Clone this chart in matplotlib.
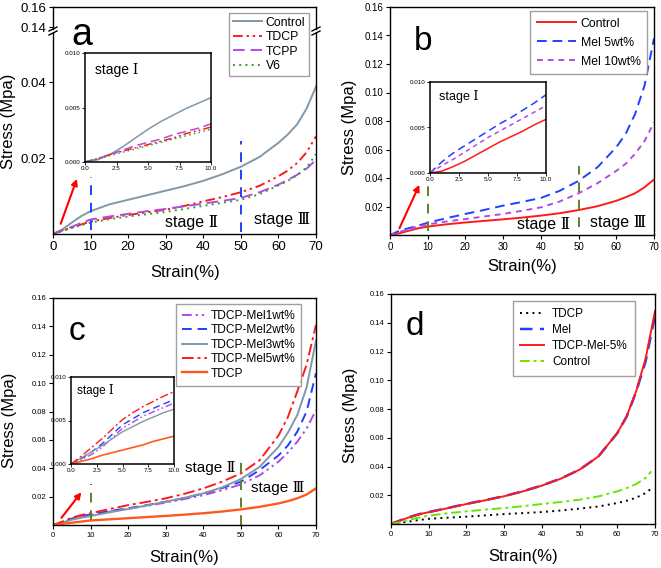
import matplotlib
matplotlib.use("Agg")
import matplotlib.pyplot as plt
from matplotlib.lines import Line2D

plt.rcParams['font.family'] = ['Liberation Sans', 'DejaVu Sans']

W, H = 661, 568
fig = plt.figure(figsize=(W / 100, H / 100), dpi=100)


def rect(l, t, r, b):
    return [l / W, 1 - b / H, (r - l) / W, (b - t) / H]


# ---------------- data ----------------
strain = [0, 2.5, 5, 7.5, 10, 15, 20, 25, 30, 35, 40, 45, 50, 55, 60, 62.5, 65, 67.5, 70]
strain_d_short = [0, 2.5, 5, 7.5, 10, 15, 20, 25, 30, 35, 40, 45, 50, 55, 60, 62.5, 65, 67.5, 69]
strain_inset = [0, 1, 2, 3, 4, 5, 6, 7, 8, 9, 10]

# panel a
a_control = [0, 0.0012, 0.003, 0.0047, 0.006, 0.0078, 0.009, 0.0102, 0.0114, 0.0126, 0.014, 0.0157, 0.0177, 0.0203, 0.024, 0.0262, 0.0289, 0.033, 0.0388]
a_tdcp = [0, 0.0009, 0.0017, 0.0025, 0.0033, 0.0042, 0.005, 0.0057, 0.0064, 0.0074, 0.0086, 0.0097, 0.011, 0.0127, 0.0152, 0.0167, 0.0187, 0.0215, 0.0257]
a_tcpp = [0, 0.001, 0.0019, 0.0029, 0.0038, 0.0046, 0.0053, 0.006, 0.0066, 0.0073, 0.008, 0.0087, 0.0095, 0.011, 0.013, 0.0142, 0.0156, 0.0172, 0.0195]
a_v6 = [0, 0.0008, 0.0016, 0.0023, 0.003, 0.0039, 0.0046, 0.0052, 0.0058, 0.0066, 0.0074, 0.0082, 0.009, 0.0105, 0.0128, 0.014, 0.0155, 0.0175, 0.021]
ai_control = [0, 0.0002, 0.0007, 0.0014, 0.0022, 0.003, 0.0037, 0.0043, 0.0049, 0.0054, 0.0059]
ai_tdcp = [0, 0.0003, 0.0007, 0.001, 0.0013, 0.0016, 0.0019, 0.0022, 0.0026, 0.0029, 0.0032]
ai_tcpp = [0, 0.0003, 0.0007, 0.0011, 0.0015, 0.0018, 0.0021, 0.0025, 0.0028, 0.0031, 0.0035]
ai_v6 = [0, 0.0003, 0.0006, 0.0009, 0.0012, 0.0015, 0.0018, 0.0021, 0.0024, 0.0027, 0.003]

# panel b
b_control = [0, 0.0012, 0.003, 0.0047, 0.0059, 0.0075, 0.0088, 0.0099, 0.011, 0.0122, 0.0136, 0.0153, 0.0175, 0.0202, 0.024, 0.0265, 0.0293, 0.0335, 0.039]
b_mel5 = [0, 0.003, 0.0048, 0.0066, 0.0086, 0.0118, 0.0148, 0.0176, 0.0206, 0.0232, 0.026, 0.031, 0.038, 0.0475, 0.0616, 0.071, 0.085, 0.105, 0.138]
b_mel10 = [0, 0.0022, 0.0039, 0.006, 0.0074, 0.0095, 0.0112, 0.013, 0.0148, 0.017, 0.0194, 0.0235, 0.0293, 0.0363, 0.045, 0.05, 0.057, 0.066, 0.079]
bi_control = [0, 0.0002, 0.0007, 0.0013, 0.002, 0.0027, 0.0034, 0.004, 0.0046, 0.0053, 0.0059]
bi_mel5 = [0, 0.0012, 0.0022, 0.003, 0.0038, 0.0046, 0.0054, 0.0061, 0.0069, 0.0077, 0.0086]
bi_mel10 = [0, 0.0008, 0.0015, 0.0023, 0.0031, 0.0039, 0.0046, 0.0053, 0.006, 0.0067, 0.0074]

# panel c
c_mel1 = [0, 0.0014, 0.0041, 0.0058, 0.007, 0.0094, 0.0115, 0.0135, 0.0158, 0.0183, 0.021, 0.0245, 0.0286, 0.035, 0.0446, 0.051, 0.0586, 0.068, 0.081]
c_mel2 = [0, 0.0018, 0.0045, 0.0062, 0.0074, 0.0098, 0.0118, 0.014, 0.0164, 0.019, 0.0222, 0.026, 0.0305, 0.0387, 0.049, 0.056, 0.0657, 0.08, 0.107]
c_mel3 = [0, 0.0017, 0.0037, 0.0051, 0.0063, 0.0089, 0.0113, 0.0138, 0.0164, 0.0192, 0.0223, 0.0265, 0.0324, 0.041, 0.055, 0.065, 0.0774, 0.097, 0.13]
c_mel5 = [0, 0.0024, 0.0051, 0.007, 0.0083, 0.0112, 0.014, 0.0163, 0.0188, 0.022, 0.0258, 0.0305, 0.0364, 0.0457, 0.063, 0.076, 0.094, 0.113, 0.141]
c_tdcp = [0, 0.0008, 0.0016, 0.0024, 0.0032, 0.004, 0.0048, 0.0056, 0.0064, 0.0073, 0.0083, 0.0095, 0.011, 0.0128, 0.0152, 0.0168, 0.0188, 0.0215, 0.0258]
ci_mel1 = [0, 0.0005, 0.0011, 0.0019, 0.003, 0.0041, 0.0048, 0.0055, 0.006, 0.0065, 0.007]
ci_mel2 = [0, 0.0006, 0.0014, 0.0023, 0.0034, 0.0045, 0.0052, 0.0059, 0.0064, 0.0069, 0.0074]
ci_mel3 = [0, 0.0007, 0.0014, 0.0021, 0.0029, 0.0037, 0.0043, 0.0049, 0.0054, 0.0059, 0.0063]
ci_mel5 = [0, 0.0009, 0.0019, 0.0029, 0.004, 0.0051, 0.0059, 0.0066, 0.0072, 0.0078, 0.0083]
ci_tdcp = [0, 0.0003, 0.0006, 0.001, 0.0013, 0.0016, 0.0019, 0.0022, 0.0026, 0.0029, 0.0032]

# panel d
d_tdcp = [0, 0.0009, 0.0018, 0.0028, 0.0036, 0.0044, 0.0051, 0.006, 0.0069, 0.0076, 0.0083, 0.0094, 0.0107, 0.0122, 0.0146, 0.0162, 0.0183, 0.0215, 0.0246]
d_mel = [0, 0.0026, 0.0049, 0.0069, 0.0083, 0.0111, 0.014, 0.0166, 0.0194, 0.0228, 0.0268, 0.0316, 0.0378, 0.047, 0.0632, 0.0748, 0.092, 0.113, 0.145]
d_tdcp_mel = [0, 0.0025, 0.0048, 0.0068, 0.0082, 0.011, 0.0139, 0.0165, 0.0193, 0.0227, 0.0267, 0.0315, 0.0378, 0.047, 0.0633, 0.075, 0.0923, 0.115, 0.148]
d_control = [0, 0.0012, 0.003, 0.0046, 0.0058, 0.0075, 0.0088, 0.01, 0.0111, 0.0124, 0.0139, 0.0153, 0.0169, 0.0192, 0.0227, 0.025, 0.0278, 0.032, 0.0366]

x_ticks = [0, 10, 20, 30, 40, 50, 60, 70]
y_ticks = [0.02, 0.04, 0.06, 0.08, 0.10, 0.12, 0.14, 0.16]
y_tick_labels = ['0.02', '0.04', '0.06', '0.08', '0.10', '0.12', '0.14', '0.16']
inset_xticks = [0, 2.5, 5, 7.5, 10]
inset_xlabels = ['0.0', '2.5', '5.0', '7.5', '10.0']
inset_yticks = [0, 0.005, 0.01]
inset_ylabels = ['0.000', '0.005', '0.010']

# ---------------- styles ----------------
GREY = '#8198a8'
RED = '#ff1a1a'
PURPLE = '#b24ae8'
BLUE = '#2040ff'
GREEN = '#2ea02e'
OLIVE = '#5f7f2f'
ORANGE = '#ff5a1e'
LIME = '#66e600'
DDOT = (0, (5, 2, 1.2, 2, 1.2, 2))
LW = 1.4
STAGE1 = 'stage \u2160'
STAGE2 = 'stage \u2161'
STAGE3 = 'stage \u2162'
STAGE_FONT = ['Liberation Sans', 'DejaVu Serif', 'DejaVu Sans']


def style_axes(ax, tick_fs):
    for s in ax.spines.values():
        s.set_linewidth(1.0)
    ax.tick_params(direction='out', length=3, width=0.8, labelsize=tick_fs, pad=2)


def style_inset(ax):
    ax.set_xlim(0, 10)
    ax.set_ylim(0, 0.01)
    ax.set_xticks(inset_xticks)
    ax.set_xticklabels(inset_xlabels)
    ax.set_yticks(inset_yticks)
    ax.set_yticklabels(inset_ylabels)
    for s in ax.spines.values():
        s.set_linewidth(1.1)
    ax.tick_params(direction='out', length=2, width=0.6, labelsize=4.5, pad=1)


def legend(ax, anchor, fs, hl, htp, bp, ls):
    h, l = ax.get_legend_handles_labels()
    lg = ax.legend(h, l, loc='upper left', bbox_to_anchor=(anchor[0] / W, 1 - anchor[1] / H),
                   bbox_transform=fig.transFigure, fontsize=fs, frameon=True, fancybox=False,
                   edgecolor='#888888', handlelength=hl, borderpad=bp, labelspacing=ls,
                   handletextpad=htp, borderaxespad=0)
    lg.get_frame().set_linewidth(1.0)
    lg.set_zorder(20)


# ================= panel a =================
ax_top = fig.add_axes(rect(53, 7, 316, 29))
ax_a = fig.add_axes(rect(53, 33, 316, 234))
ax_top.set_xlim(0, 70)
ax_top.set_ylim(0.138, 0.16)
ax_top.set_yticks([0.14, 0.16])
ax_top.set_yticklabels(['0.14', '0.16'])
ax_top.set_xticks([])
ax_top.spines['bottom'].set_visible(False)
style_axes(ax_top, 9.5)

ax_a.set_xlim(0, 70)
ax_a.set_ylim(0, 0.0529)
ax_a.plot(strain, a_control, color=GREY, lw=LW, label='Control')
ax_a.plot(strain, a_tdcp, color=RED, lw=LW, ls=DDOT, label='TDCP')
ax_a.plot(strain, a_tcpp, color=PURPLE, lw=LW, ls=(0, (6, 3)), label='TCPP')
ax_a.plot(strain, a_v6, color=GREEN, lw=LW, ls=(0, (1, 2.2)), label='V6')
a_vlines_x = [10, 50]
a_vlines_lo = [0.001, 0.0005]
a_vlines_hi = [0.015, 0.0245]
ax_a.vlines(a_vlines_x, a_vlines_lo, a_vlines_hi, colors=BLUE, linestyles=(0, (5, 4)), lw=1.4)
ax_a.annotate('', xy=(6.6, 0.0152), xytext=(1.8, 0.002),
              arrowprops=dict(arrowstyle='-|>', color='red', lw=1.5, mutation_scale=9))
ax_a.text(36.8, 0.0031, STAGE2, fontsize=11.5, ha='center', va='center', family=STAGE_FONT)
ax_a.text(61.1, 0.0038, STAGE3, fontsize=11.5, ha='center', va='center', family=STAGE_FONT)
ax_a.set_xticks(x_ticks)
ax_a.set_yticks([0.02, 0.04])
ax_a.set_yticklabels(['0.02', '0.04'])
ax_a.spines['top'].set_visible(False)
style_axes(ax_a, 9.5)
ax_a.set_xlabel('Strain(%)', fontsize=12)
ax_a.xaxis.set_label_coords(0.502, -0.154)
ax_a.set_ylabel('Stress (Mpa)', fontsize=12)
ax_a.yaxis.set_label_coords(-0.141, 0.56)
legend(ax_a, (229, 13), 8.8, 2.4, 0.3, 0.3, 0.2)

# break marks
for xb in (53, 316):
    for yb in (29, 33):
        fig.add_artist(Line2D([(xb - 4) / W, (xb + 4) / W], [1 - (yb + 2) / H, 1 - (yb - 2) / H],
                              transform=fig.transFigure, color='black', lw=1.0))
fig.text(82 / W, 1 - 45 / H, 'a', fontsize=27, ha='center', va='baseline')

ia = fig.add_axes(rect(85, 53, 211, 162))
ia.plot(strain_inset, ai_control, color=GREY, lw=1.1)
ia.plot(strain_inset, ai_tdcp, color=RED, lw=1.1, ls=DDOT)
ia.plot(strain_inset, ai_tcpp, color=PURPLE, lw=1.1, ls=(0, (6, 3)))
ia.plot(strain_inset, ai_v6, color=GREEN, lw=1.1, ls=(0, (1, 2.2)))
style_inset(ia)
ia.text(0.08, 0.84, STAGE1, transform=ia.transAxes, fontsize=10, va='center', family=STAGE_FONT)

# ================= panel b =================
ax_b = fig.add_axes(rect(390, 7, 654, 235))
ax_b.plot(strain, b_control, color=RED, lw=LW, label='Control')
ax_b.plot(strain, b_mel5, color=BLUE, lw=LW, ls=(0, (5, 3)), label='Mel 5wt%')
ax_b.plot(strain, b_mel10, color=PURPLE, lw=LW, ls=(0, (3, 2.5)), label='Mel 10wt%')
b_vlines_x = [10, 50]
b_vlines_lo = [0.003, 0.0054]
b_vlines_hi = [0.0363, 0.0487]
ax_b.vlines(b_vlines_x, b_vlines_lo, b_vlines_hi, colors=OLIVE, linestyles=(0, (5, 4)), lw=1.4)
ax_b.annotate('', xy=(8.1, 0.037), xytext=(2.2, 0.003),
              arrowprops=dict(arrowstyle='-|>', color='red', lw=1.5, mutation_scale=9))
ax_b.text(40.7, 0.0073, STAGE2, fontsize=11.5, ha='center', va='center', family=STAGE_FONT)
ax_b.text(60.4, 0.0089, STAGE3, fontsize=11.5, ha='center', va='center', family=STAGE_FONT)
ax_b.set_xlim(0, 70)
ax_b.set_ylim(0, 0.16)
ax_b.set_xticks(x_ticks)
ax_b.set_yticks(y_ticks)
ax_b.set_yticklabels(y_tick_labels)
style_axes(ax_b, 7)
ax_b.set_xlabel('Strain(%)', fontsize=12)
ax_b.xaxis.set_label_coords(0.5, -0.105)
ax_b.set_ylabel('Stress (Mpa)', fontsize=12)
ax_b.yaxis.set_label_coords(-0.125, 0.474)
legend(ax_b, (530, 11), 8.8, 3.2, 0.4, 0.55, 0.57)
fig.text(423 / W, 1 - 50 / H, 'b', fontsize=24, ha='center', va='baseline')

ib = fig.add_axes(rect(430, 82, 546, 173))
ib.plot(strain_inset, bi_control, color=RED, lw=1.1)
ib.plot(strain_inset, bi_mel5, color=BLUE, lw=1.1, ls=(0, (5, 3)))
ib.plot(strain_inset, bi_mel10, color=PURPLE, lw=1.1, ls=(0, (3, 2.5)))
style_inset(ib)
ib.text(0.08, 0.84, STAGE1, transform=ib.transAxes, fontsize=9, va='center', family=STAGE_FONT)

# ================= panel c =================
ax_c = fig.add_axes(rect(53, 298, 316, 525))
ax_c.plot(strain, c_mel1, color=PURPLE, lw=LW, ls=DDOT, label='TDCP-Mel1wt%')
ax_c.plot(strain, c_mel2, color=BLUE, lw=LW, ls=(0, (5, 3)), label='TDCP-Mel2wt%')
ax_c.plot(strain, c_mel3, color=GREY, lw=LW, label='TDCP-Mel3wt%')
ax_c.plot(strain, c_mel5, color=RED, lw=LW, ls=(0, (6, 2, 1.5, 2)), label='TDCP-Mel5wt%')
ax_c.plot(strain, c_tdcp, color=ORANGE, lw=LW + 0.3, label='TDCP')
c_vlines_x = [10, 50]
c_vlines_lo = [0.0035, 0.0]
c_vlines_hi = [0.0286, 0.0488]
ax_c.vlines(c_vlines_x, c_vlines_lo, c_vlines_hi, colors=OLIVE, linestyles=(0, (5, 4)), lw=1.4)
ax_c.annotate('', xy=(8.0, 0.0246), xytext=(1.8, 0.0035),
              arrowprops=dict(arrowstyle='-|>', color='red', lw=1.5, mutation_scale=9))
ax_c.text(41.8, 0.0404, STAGE2, fontsize=11, ha='center', va='center', family=STAGE_FONT)
ax_c.text(59.9, 0.0258, STAGE3, fontsize=11, ha='center', va='center', family=STAGE_FONT)
ax_c.set_xlim(0, 70)
ax_c.set_ylim(0, 0.16)
ax_c.set_xticks(x_ticks)
ax_c.set_yticks(y_ticks)
ax_c.set_yticklabels(y_tick_labels)
style_axes(ax_c, 5.5)
ax_c.set_xlabel('Strain(%)', fontsize=12)
ax_c.xaxis.set_label_coords(0.5, -0.11)
ax_c.set_ylabel('Stress (Mpa)', fontsize=12)
ax_c.yaxis.set_label_coords(-0.137, 0.463)
legend(ax_c, (176, 304), 8.6, 2.1, 0.3, 0.5, 0.2)
fig.text(77 / W, 1 - 340 / H, 'c', fontsize=24, ha='center', va='baseline')

ic = fig.add_axes(rect(71, 377, 174, 464))
ic.plot(strain_inset, ci_mel1, color=PURPLE, lw=1.0, ls=DDOT)
ic.plot(strain_inset, ci_mel2, color=BLUE, lw=1.0, ls=(0, (5, 3)))
ic.plot(strain_inset, ci_mel3, color=GREY, lw=1.0)
ic.plot(strain_inset, ci_mel5, color=RED, lw=1.0, ls=(0, (6, 2, 1.5, 2)))
ic.plot(strain_inset, ci_tdcp, color=ORANGE, lw=1.2)
style_inset(ic)
ic.text(0.06, 0.84, STAGE1, transform=ic.transAxes, fontsize=8.5, va='center', family=STAGE_FONT)

# ================= panel d =================
ax_d = fig.add_axes(rect(391, 294, 655, 524))
ax_d.plot(strain_d_short, d_tdcp, color='black', lw=LW, ls=(0, (1, 2.2)), label='TDCP')
ax_d.plot(strain, d_mel, color=BLUE, lw=LW + 0.4, ls=(0, (5, 3)), label='Mel')
ax_d.plot(strain, d_tdcp_mel, color=RED, lw=LW, label='TDCP-Mel-5%')
ax_d.plot(strain_d_short, d_control, color=LIME, lw=LW, ls=(0, (5, 2, 1.5, 2)), label='Control')
ax_d.set_xlim(0, 70)
ax_d.set_ylim(0, 0.16)
ax_d.set_xticks(x_ticks)
ax_d.set_yticks(y_ticks)
ax_d.set_yticklabels(y_tick_labels)
style_axes(ax_d, 5.5)
ax_d.set_xlabel('Strain(%)', fontsize=12)
ax_d.xaxis.set_label_coords(0.5, -0.109)
ax_d.set_ylabel('Stress (Mpa)', fontsize=12)
ax_d.yaxis.set_label_coords(-0.125, 0.474)
legend(ax_d, (513, 301), 8.5, 2.0, 0.7, 0.6, 0.35)
fig.text(415 / W, 1 - 335 / H, 'd', fontsize=24, ha='center', va='baseline')

fig.savefig('out.png', dpi=100)
